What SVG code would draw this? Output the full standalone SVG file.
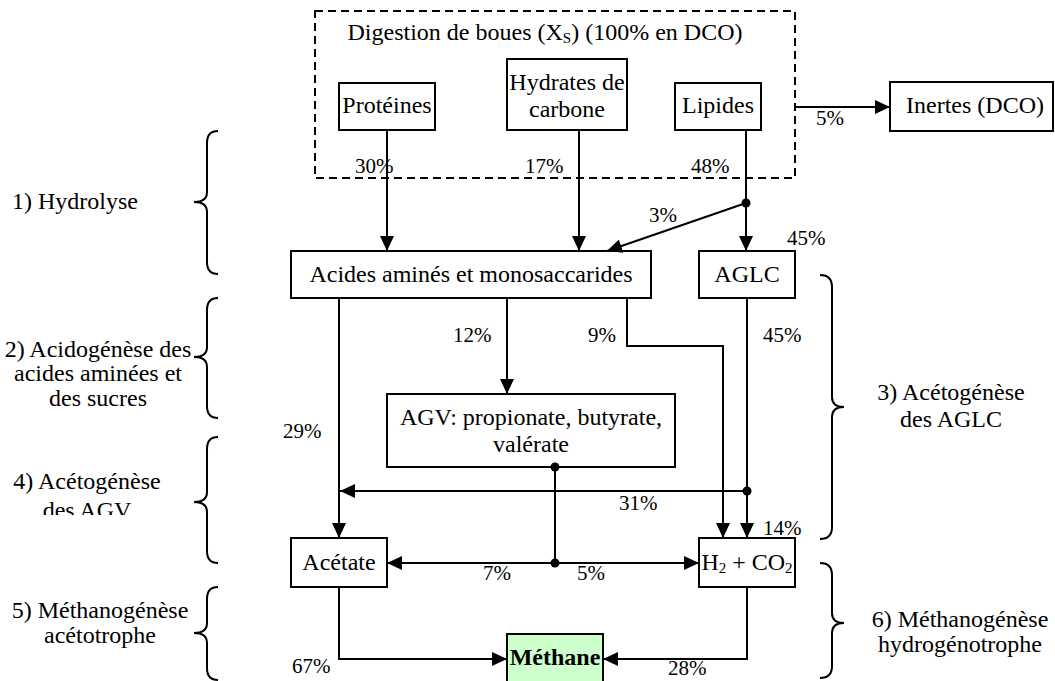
<svg xmlns="http://www.w3.org/2000/svg" width="1055" height="681" viewBox="0 0 1055 681" font-family="'Liberation Serif', 'DejaVu Serif', serif">
<style>
text{font-family:'Liberation Serif','DejaVu Serif',serif;fill:#000}
.t{font-size:24px;text-anchor:middle}
.p{font-size:21px}
.box{fill:#fff;stroke:#000;stroke-width:2}
.ln{fill:none;stroke:#000;stroke-width:2}
.br{fill:none;stroke:#000;stroke-width:2}
.sub{font-size:15px}
</style>
<defs>
<marker id="ah" markerUnits="userSpaceOnUse" markerWidth="15" markerHeight="14" refX="15" refY="7" orient="auto">
<path d="M0,0 L15,7 L0,14 z" fill="#000"/>
</marker>
<clipPath id="clipAgv"><rect x="0" y="480" width="180" height="35"/></clipPath>
</defs>
<rect width="1055" height="681" fill="#fff"/>

<g id="digestion">
<rect x="315" y="11" width="480" height="167" fill="none" stroke="#000" stroke-width="2" stroke-dasharray="8,5"/>
<text class="t" x="545" y="40">Digestion de boues (X<tspan class="sub" dy="3">S</tspan><tspan dy="-3">) (100% en DCO)</tspan></text>
</g>
<g id="proteines"><rect class="box" x="339" y="83" width="96" height="47"/><text class="t" x="387" y="113">Protéines</text></g>
<g id="hydrates"><rect class="box" x="507" y="59" width="120" height="71"/><text class="t" x="567" y="90">Hydrates de</text><text class="t" x="567" y="117">carbone</text></g>
<g id="lipides"><rect class="box" x="675" y="83" width="86" height="47"/><text class="t" x="718" y="113">Lipides</text></g>
<g id="inertes"><rect class="box" x="890" y="82" width="163" height="49"/><text class="t" x="975" y="113">Inertes (DCO)</text></g>
<g id="acides"><rect class="box" x="291" y="251" width="360" height="47"/><text class="t" x="471" y="282">Acides aminés et monosaccarides</text></g>
<g id="aglc"><rect class="box" x="699" y="251" width="96" height="47"/><text class="t" x="747" y="282">AGLC</text></g>
<g id="agv"><rect class="box" x="387" y="394" width="288" height="73"/><text class="t" x="531" y="425">AGV: propionate, butyrate,</text><text class="t" x="531" y="452">valérate</text></g>
<g id="acetate"><rect class="box" x="291" y="538" width="96" height="49"/><text class="t" x="339" y="570">Acétate</text></g>
<g id="h2co2"><rect class="box" x="699" y="538" width="96" height="49"/><text class="t" x="747" y="570">H<tspan class="sub" dy="3">2</tspan><tspan dy="-3"> + CO</tspan><tspan class="sub" dy="3">2</tspan></text></g>
<g id="methane"><rect x="507" y="634" width="96" height="52" fill="#ccffcc" stroke="#000" stroke-width="2"/><text class="t" x="555" y="665" font-weight="bold">Méthane</text></g>

<g id="connectors">
<path class="ln" d="M387,130 V251" marker-end="url(#ah)"/>
<path class="ln" d="M579,130 V251" marker-end="url(#ah)"/>
<path class="ln" d="M746,130 V251" marker-end="url(#ah)"/>
<path class="ln" d="M746,203 L607,251" marker-end="url(#ah)"/>
<path class="ln" d="M795,107 H890" marker-end="url(#ah)"/>
<path class="ln" d="M339,298 V538" marker-end="url(#ah)"/>
<path class="ln" d="M507,298 V394" marker-end="url(#ah)"/>
<path class="ln" d="M627,298 V346 H723 V538" marker-end="url(#ah)"/>
<path class="ln" d="M747,298 V538" marker-end="url(#ah)"/>
<path class="ln" d="M747,491 H340" marker-end="url(#ah)"/>
<path class="ln" d="M555,467 V563"/>
<path class="ln" d="M555,563 H387" marker-end="url(#ah)"/>
<path class="ln" d="M555,563 H699" marker-end="url(#ah)"/>
<path class="ln" d="M339,587 V659 H507" marker-end="url(#ah)"/>
<path class="ln" d="M747,587 V659 H603" marker-end="url(#ah)"/>
<circle cx="746" cy="203" r="4.5"/>
<circle cx="747" cy="491" r="4.5"/>
<circle cx="555" cy="467" r="4.5"/>
<circle cx="555" cy="563" r="4.5"/>
</g>

<g id="labels">
<text class="p" x="355" y="173">30%</text>
<text class="p" x="525" y="173">17%</text>
<text class="p" x="691" y="173">48%</text>
<text class="p" x="816" y="125">5%</text>
<text class="p" x="649" y="222">3%</text>
<text class="p" x="787" y="245">45%</text>
<text class="p" x="453" y="342">12%</text>
<text class="p" x="588" y="342">9%</text>
<text class="p" x="763" y="342">45%</text>
<text class="p" x="283" y="438">29%</text>
<text class="p" x="619" y="510">31%</text>
<text class="p" x="763" y="535">14%</text>
<text class="p" x="483" y="580">7%</text>
<text class="p" x="577" y="580">5%</text>
<text class="p" x="292" y="673">67%</text>
<text class="p" x="668" y="675">28%</text>
</g>

<g id="phases">
<path class="br" d="M218,131 Q207,131 207,143 L207,192 Q207,202 194,202 Q207,202 207,212 L207,262 Q207,274 218,274"/>
<path class="br" d="M218,298 Q207,298 207,310 L207,347 Q207,357 194,357 Q207,357 207,367 L207,406 Q207,418 218,418"/>
<path class="br" d="M218,437 Q207,437 207,449 L207,492 Q207,502 194,502 Q207,502 207,512 L207,551 Q207,563 218,563"/>
<path class="br" d="M218,587 Q207,587 207,599 L207,623 Q207,633 194,633 Q207,633 207,643 L207,668 Q207,680 218,680"/>
<path class="br" d="M820,275 Q832,275 832,287 L832,397 Q832,407 844,407 Q832,407 832,417 L832,527 Q832,539 820,539"/>
<path class="br" d="M820,563 Q832,563 832,575 L832,613 Q832,623 844,623 Q832,623 832,633 L832,666 Q832,678 820,678"/>
<text class="t" x="75" y="209">1) Hydrolyse</text>
<text class="t" x="98" y="357">2) Acidogénèse des</text>
<text class="t" x="98" y="381">acides aminées et</text>
<text class="t" x="98" y="406">des sucres</text>
<text class="t" x="87" y="489">4) Acétogénèse</text>
<text class="t" x="87" y="518" clip-path="url(#clipAgv)">des AGV</text>
<text class="t" x="100" y="618">5) Méthanogénèse</text>
<text class="t" x="100" y="643">acétotrophe</text>
<text class="t" x="951" y="400">3) Acétogénèse</text>
<text class="t" x="951" y="427">des AGLC</text>
<text class="t" x="960" y="627">6) Méthanogénèse</text>
<text class="t" x="960" y="652">hydrogénotrophe</text>
</g>
</svg>
